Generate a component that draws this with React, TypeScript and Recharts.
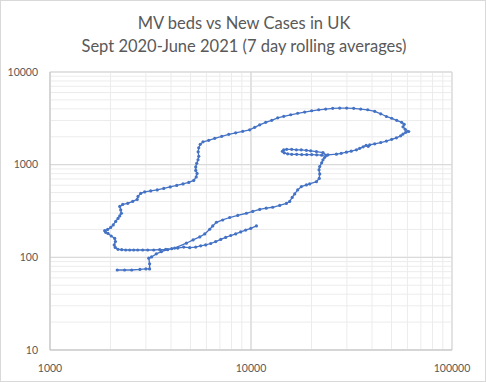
import {
  CartesianGrid,
  ReferenceLine,
  Scatter,
  ScatterChart,
  XAxis,
  YAxis,
} from "recharts";

// 7 day rolling averages, Sept 2020 -> June 2021, in date order
const newCases = [
  2160, 2350, 2550, 2800, 3000, 3130, 3130, 3100, 3200, 3380, 3580, 3850, 4170,
  4770, 5150, 5560, 5890, 6230, 6450, 6730, 7230, 7830, 8590, 9490, 10200,
  11050, 11900, 12820, 13890, 15000, 15580, 16030, 16500, 17070, 17810, 18860,
  19590, 21160, 21850, 21970, 21800, 21970, 22470, 22810, 23260, 23800,
  22810, 21160, 19820, 18860, 17780, 16820, 15940, 15050, 14550, 14330, 14630,
  15220, 15940, 16880, 17880, 18930, 20040, 21230, 22470, 24160, 26600, 28100,
  29830, 31510, 33450, 34730, 36150, 37420, 38300, 38960, 41260, 44200, 47170,
  50120, 52890, 55560, 57040, 58850, 60900, 58500, 57040, 57830, 56200, 53080,
  50120, 47170, 44200, 41260, 38070, 35130, 32430, 29930, 27630, 25500, 23530,
  21720, 20040, 18500, 17070, 15760, 14550, 13580, 12680, 11830, 11050, 10430,
  9850, 9090, 8390, 7750, 7150, 6600, 6160, 5770, 5590, 5495, 5460, 5495, 5450,
  5370, 5310, 5310, 5390, 5340, 5190, 4900, 4590, 4270, 3963, 3680, 3415, 3170,
  2959, 2827, 2741, 2716, 2579, 2436, 2300, 2223, 2248, 2266, 2223, 2180, 2123,
  2063, 2004, 1936, 1871, 1893, 1943, 2016, 2099, 2116, 2087, 2111, 2180, 2274,
  2381, 2492, 2609, 2731, 2892, 3063, 3281, 3515, 3763, 4032, 4319, 4626, 4955,
  5307, 5620, 5953, 6304, 6675, 7070, 7480, 7925, 8390, 8890, 9410, 9970, 10640,
];

const mvBeds = [
  73, 73, 73, 74, 75, 75, 85, 98, 101, 109, 115, 121, 126, 142, 154, 166, 179,
  201, 218, 239, 253, 269, 283, 299, 313, 329, 339, 347, 363, 382, 401, 443,
  483, 534, 580, 605, 620, 656, 711, 795, 879, 953, 1046, 1127, 1199, 1261,
  1352, 1386, 1410, 1428, 1445, 1445, 1463, 1463, 1445, 1392, 1342, 1309, 1292,
  1292, 1285, 1285, 1285, 1276, 1267, 1276, 1299, 1325, 1365, 1400, 1445, 1500,
  1557, 1617, 1577, 1637, 1679, 1734, 1795, 1877, 1950, 2048, 2137, 2234, 2280,
  2408, 2563, 2728, 2866, 3013, 3167, 3311, 3541, 3767, 3912, 3981, 4060, 4082,
  4082, 4060, 3981, 3912, 3816, 3695, 3586, 3455, 3327, 3206, 3013, 2866, 2692,
  2531, 2377, 2291, 2206, 2126, 2023, 1924, 1832, 1764, 1657, 1519, 1375, 1230,
  1127, 1033, 946, 867, 805, 738, 676, 644, 620, 597, 575, 554, 534, 521, 508,
  490, 454, 422, 401, 383, 372, 354, 325, 299, 280, 263, 244, 224, 210, 200,
  194, 186, 181, 170, 160, 148, 136, 128, 122, 121, 120, 120, 120, 120, 120,
  120, 120, 121, 122, 124, 126, 129, 127, 129, 133, 136, 141, 148, 156, 164,
  172, 179, 188, 197, 205, 218,
];

const xTicks = [1000, 10000, 100000];
const yTicks = [10, 100, 1000, 10000];
const minorSteps = [2, 3, 4, 5, 6, 7, 8, 9];

const points = newCases.map((cases, i) => ({ cases, mv: mvBeds[i] }));

const xMinor = [1000, 10000].flatMap((d) => minorSteps.map((m) => d * m));
const yMinor = [10, 100, 1000].flatMap((d) => minorSteps.map((m) => d * m));

const BLUE = "#4472C4";
const TEXT = "#595959";
const FONT = "Lato, 'Open Sans', sans-serif";

function Dot(props: { cx?: number; cy?: number }) {
  if (props.cx == null || props.cy == null) return null;
  return <circle cx={props.cx} cy={props.cy} r={1.6} fill={BLUE} />;
}

export default function App() {
  return (
    <div
      style={{
        position: "absolute",
        left: 0,
        top: 0,
        width: 486,
        height: 382,
        background: "#fff",
        border: "1px solid #d9d9d9",
        boxSizing: "border-box",
        fontFamily: FONT,
      }}
    >
      <div
        style={{
          position: "absolute",
          left: 0,
          top: 11,
          width: 486,
          textAlign: "center",
          color: TEXT,
          fontSize: 16.5,
          lineHeight: "23px",
        }}
      >
        <div>MV beds vs New Cases in UK</div>
        <div>Sept 2020-June 2021 (7 day rolling averages)</div>
      </div>
      <div style={{ position: "absolute", left: -1, top: -1 }}>
        <ScatterChart
          width={486}
          height={382}
          margin={{ top: 72, right: 34, bottom: 0, left: 0 }}
        >
          <CartesianGrid stroke="#d9d9d9" strokeWidth={1} />
          {xMinor.map((v) => (
            <ReferenceLine key={`x${v}`} x={v} stroke="#ececec" strokeWidth={1} />
          ))}
          {yMinor.map((v) => (
            <ReferenceLine key={`y${v}`} y={v} stroke="#ececec" strokeWidth={1} />
          ))}
          <ReferenceLine x={10000} stroke="#d9d9d9" />
          <ReferenceLine x={100000} stroke="#d9d9d9" />
          <ReferenceLine y={100} stroke="#d9d9d9" />
          <ReferenceLine y={1000} stroke="#d9d9d9" />
          <ReferenceLine y={10000} stroke="#d9d9d9" />
          <XAxis
            type="number"
            dataKey="cases"
            scale="log"
            domain={[1000, 100000]}
            ticks={xTicks}
            allowDataOverflow
            height={32}
            axisLine={{ stroke: "#bfbfbf" }}
            tickLine={false}
            tickMargin={9}
            tick={{ fill: TEXT, fontSize: 10.5, fontFamily: FONT }}
          />
          <YAxis
            type="number"
            dataKey="mv"
            scale="log"
            domain={[10, 10000]}
            ticks={yTicks}
            allowDataOverflow
            width={50}
            axisLine={{ stroke: "#bfbfbf" }}
            tickLine={false}
            tickMargin={6}
            tick={{ fill: TEXT, fontSize: 10.5, fontFamily: FONT }}
          />
          <Scatter
            data={points}
            line={{ stroke: BLUE, strokeWidth: 1.3 }}
            shape={<Dot />}
            isAnimationActive={false}
          />
        </ScatterChart>
      </div>
    </div>
  );
}
